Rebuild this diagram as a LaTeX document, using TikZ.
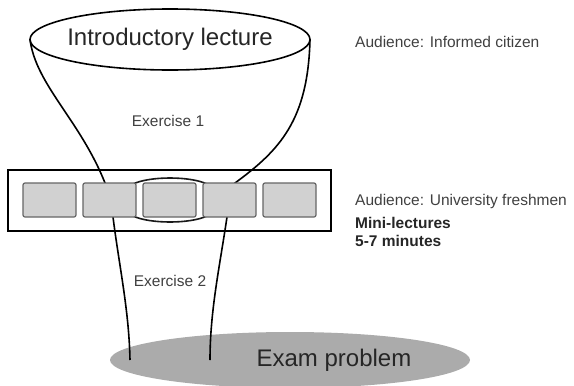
\documentclass[tikz,border=0pt]{standalone}
\usepackage{fontspec}
\setmainfont{Liberation Sans}
\usetikzlibrary{shapes.geometric}
\tikzset{
ellipsenodev1/.style={ellipse, draw=black!100,fill=white,line width=1.6pt, inner sep=0pt, outer sep=0pt, minimum width= 280pt, minimum height = 61pt},
ellipsenodev2/.style={ellipse, draw=none,fill=black!33, inner sep=0pt, outer sep=0pt, minimum width= 360pt, minimum height = 56pt},
framenode/.style={rectangle, draw=black!100,fill=white,line width=1.6pt, inner sep=0pt, minimum width= 323pt, minimum height = 61pt},
greybox/.style={rectangle, rounded corners=2pt, draw=black!60,fill=black!18,line width=1.2pt, inner sep=0pt, minimum width= 53pt, minimum height = 34pt},
funnelline/.style={line width=1.6pt, black},
lensline/.style={line width=1.6pt, black!90, fill=white},
bigtext/.style={font=\fontsize{24}{28}\selectfont, text=black!85},
smalltext/.style={font=\fontsize{15.5}{19}\selectfont, text=black!75, inner sep=0pt},
boldtext/.style={font=\fontsize{15.5}{19}\selectfont\bfseries, text=black!85, inner sep=0pt},
}
\begin{document}
\begin{tikzpicture}[x=1pt,y=-1pt]
  \useasboundingbox (0,0) rectangle (574,386);
  \node[ellipsenodev2] at (290,360) (exam) {};
  \node[bigtext] at (334,360.5) (examtext) {Exam problem};
  \coordinate (examL) at ([xshift=-160pt]exam.center);
  \coordinate (examR) at ([xshift=-80pt]exam.center);

  \node[framenode] at (169.5,200.5) (frame) {};
  \node[ellipsenodev1] at (170,39.5) (intro) {};
  \node[bigtext] at (intro.center) (introtext) {Introductory lecture};

  \draw[funnelline] (intro.west) .. controls (36,85) and (80,120) .. (105,183) -- (113,217) .. controls (119,265) and (129,310) .. (examL);
  \draw[funnelline] (intro.east) .. controls (308,120) and (280,150) .. (235,183) -- (227,217) .. controls (220,265) and (210,310) .. (examR);

  \draw[lensline] (133,184) .. controls (150,176) and (190,176) .. (207,184) -- (207,216) .. controls (190,224) and (150,224) .. (133,216) -- cycle;
  \foreach \i in {1,...,5}
    \node[greybox] at (-10.5+60*\i,200) (b\i) {};

  \node[smalltext] at (168,121) (ex1) {Exercise 1};
  \node[smalltext] at (170,281) (ex2) {Exercise 2};
  \node[smalltext, anchor=base west] at (355,47) (aud1) {Audience: Informed citizen};
  \node[smalltext, anchor=base west] at (355,205) (aud2) {Audience: University freshmen};
  \node[boldtext, anchor=base west] at (355,228) (mini) {Mini-lectures};
  \node[boldtext, anchor=base west] at (355,246) (mins) {5-7 minutes};
\end{tikzpicture}
\end{document}
